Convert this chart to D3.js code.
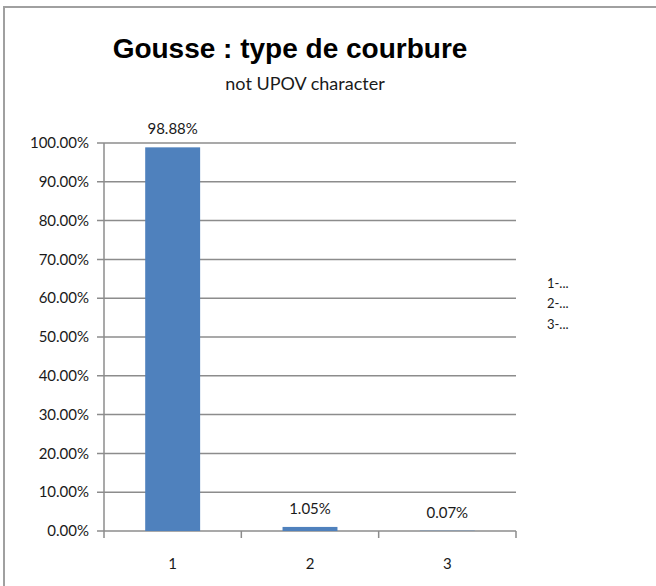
<!DOCTYPE html>
<html>
<head>
<meta charset="utf-8">
<script src="https://cdn.jsdelivr.net/npm/d3@7/dist/d3.min.js"></script>
<style>
  body { margin: 0; background: #fff; }
  text { font-family: Lato, "Open Sans", sans-serif; fill: #1a1a1a; }
</style>
</head>
<body>
<svg id="chart" width="656" height="586"></svg>
<script>
const categories = ["1", "2", "3"];
const values = [98.88, 1.05, 0.07];
const yTicks = [0, 10, 20, 30, 40, 50, 60, 70, 80, 90, 100];
const legendLabels = ["1-...", "2-...", "3-..."];
const titleText = "Gousse : type de courbure";
const subtitleText = "not UPOV character";

const svg = d3.select("#chart");

// chart frame (only top/left edges fall inside the picture)
svg.append("path")
    .attr("d", "M4,700 L4,7 L700,7")
    .attr("fill", "none")
    .attr("stroke", "#a0a0a0")
    .attr("stroke-width", 2);

const plot = { left: 104, right: 516, top: 143, bottom: 531 };

const x = d3.scaleBand()
    .domain(categories)
    .range([plot.left, plot.right])
    .paddingInner(0.6)
    .paddingOuter(0.3);

const y = d3.scaleLinear()
    .domain([0, 100])
    .range([plot.bottom, plot.top]);

// gridlines
svg.append("g")
  .selectAll("line")
  .data(yTicks)
  .enter().append("line")
    .attr("x1", plot.left - 7)
    .attr("x2", plot.right)
    .attr("y1", d => y(d))
    .attr("y2", d => y(d))
    .attr("stroke", "#8c8c8c")
    .attr("stroke-width", 1.5);

// y axis line
svg.append("line")
    .attr("x1", plot.left).attr("x2", plot.left)
    .attr("y1", plot.top).attr("y2", plot.bottom)
    .attr("stroke", "#8c8c8c")
    .attr("stroke-width", 1.5);

// y labels
svg.append("g")
  .selectAll("text")
  .data(yTicks)
  .enter().append("text")
    .attr("x", plot.left - 15)
    .attr("y", d => y(d))
    .attr("dy", "0.35em")
    .attr("text-anchor", "end")
    .style("font-size", "15px")
    .text(d => d3.format(".2f")(d) + "%");

// x category tick marks
const step = x.step();
const boundaries = [plot.left].concat(categories.map(c => x(c) + x.bandwidth() / 2 + step / 2));
svg.append("g")
  .selectAll("line")
  .data(boundaries)
  .enter().append("line")
    .attr("x1", d => d).attr("x2", d => d)
    .attr("y1", plot.bottom).attr("y2", plot.bottom + 7)
    .attr("stroke", "#8c8c8c")
    .attr("stroke-width", 1.5);

// bars
svg.append("g")
  .selectAll("rect")
  .data(values)
  .enter().append("rect")
    .attr("x", (d, i) => x(categories[i]))
    .attr("width", x.bandwidth())
    .attr("y", d => y(d))
    .attr("height", d => y(0) - y(d))
    .attr("fill", "#4f81bd");

// value labels
svg.append("g")
  .selectAll("text")
  .data(values)
  .enter().append("text")
    .attr("x", (d, i) => x(categories[i]) + x.bandwidth() / 2)
    .attr("y", d => y(d) - 13)
    .attr("text-anchor", "middle")
    .style("font-size", "15px")
    .text(d => d3.format(".2f")(d) + "%");

// category labels
svg.append("g")
  .selectAll("text")
  .data(categories)
  .enter().append("text")
    .attr("x", d => x(d) + x.bandwidth() / 2)
    .attr("y", plot.bottom + 38)
    .attr("text-anchor", "middle")
    .style("font-size", "15px")
    .text(d => d);

// legend
svg.append("g")
  .selectAll("text")
  .data(legendLabels)
  .enter().append("text")
    .attr("x", 547)
    .attr("y", (d, i) => 283 + i * 20.5)
    .attr("dy", "0.35em")
    .style("font-size", "13px")
    .text(d => d);

// titles
svg.append("text")
    .attr("x", 290)
    .attr("y", 58)
    .attr("text-anchor", "middle")
    .style("font-family", "'Liberation Sans', Arial, sans-serif")
    .style("font-weight", "bold")
    .style("font-size", "28px")
    .style("fill", "#000")
    .text(titleText);

svg.append("text")
    .attr("x", 305)
    .attr("y", 90)
    .attr("text-anchor", "middle")
    .style("font-size", "18px")
    .text(subtitleText);
</script>
</body>
</html>
